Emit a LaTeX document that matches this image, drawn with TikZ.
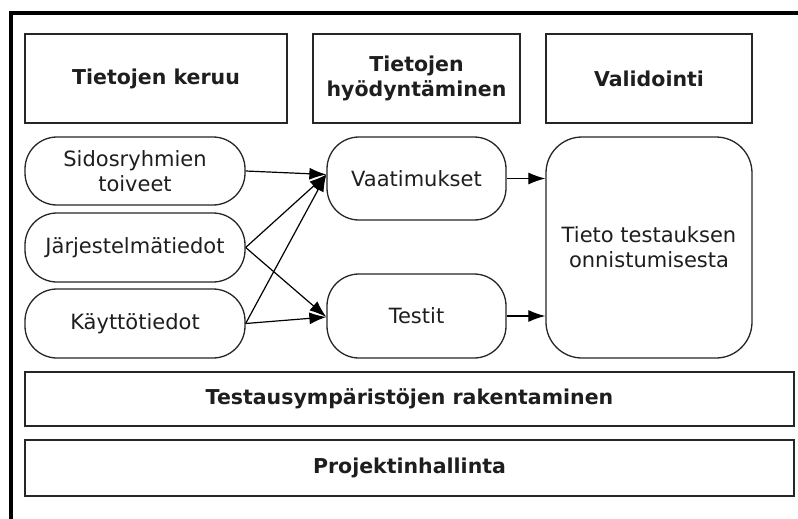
\documentclass[tikz,border=0pt]{standalone}
\usepackage{fontspec}
\setmainfont{DejaVu Sans}
\usetikzlibrary{arrows.meta}
\definecolor{txt}{HTML}{1e1e1e}
\tikzset{
  box/.style={draw=black!85, line width=1.3pt, rectangle, inner sep=0pt, align=center, text=txt, font=\fontsize{20.5}{25}\selectfont\bfseries},
  rbox/.style={draw=black!85, line width=1.3pt, rectangle, rounded corners=32pt, inner sep=0pt, align=center, text=txt, font=\fontsize{21}{25}\selectfont},
  conn/.style={draw=black, line width=1.2pt, -{Latex[length=17pt,width=12pt]}},
  frameline/.style={line width=4pt, black}
}
\begin{document}
\begin{tikzpicture}[x=1pt,y=-1pt]
\useasboundingbox (0,0) rectangle (798,519);
\fill[white] (0,0) rectangle (798,519);
\coordinate (ftl) at (10.5,13);
\coordinate (ftr) at (798,13);
\coordinate (fbl) at (10.5,519);
\draw[frameline] (ftr) -- (ftl) -- (fbl);
% headers
\node[box, minimum width=262pt, minimum height=89pt] (keruu) at (156,78.5) {Tietojen keruu};
\node[box, minimum width=207pt, minimum height=89pt] (hyod) at (416.5,78.5) {Tietojen\\hyödyntäminen};
\node[box, minimum width=206pt, minimum height=89pt] (valid) at (649,78.5) {Validointi};
% sources
\node[rbox, minimum width=220pt, minimum height=68pt] (sidos) at (135,171) {Sidosryhmien\\toiveet};
\node[rbox, minimum width=220pt, minimum height=69pt] (jarj) at (135,247.5) {Järjestelmätiedot};
\node[rbox, minimum width=220pt, minimum height=69pt] (kaytto) at (135,323.5) {Käyttötiedot};
% middle
\node[rbox, minimum width=179pt, minimum height=83pt] (vaat) at (416.5,178.5) {Vaatimukset};
\node[rbox, minimum width=179pt, minimum height=84pt] (testit) at (416.5,316) {Testit};
% right
\node[rbox, rounded corners=36pt, minimum width=206pt, minimum height=221pt] (tieto) at (649,247.5) {Tieto testauksen\\onnistumisesta};
% bars
\node[box, minimum width=769pt, minimum height=54pt] (testaus) at (409.5,399) {Testausympäristöjen rakentaminen};
\node[box, minimum width=769pt, minimum height=56pt] (proj) at (409.5,468) {Projektinhallinta};
% connectors
\coordinate (vin) at ([yshift=4pt]vaat.west);
\coordinate (tin) at ([yshift=-1pt]testit.west);
\draw[conn] (sidos.east) -- (vin);
\draw[conn] (jarj.east) -- (vin);
\draw[conn] (kaytto.east) -- (vin);
\draw[conn] (jarj.east) -- (tin);
\draw[conn] (kaytto.east) -- (tin);
\draw[conn] (vaat.east) -- (vaat.east -| tieto.west);
\draw[conn] (testit.east) -- (testit.east -| tieto.west);
\end{tikzpicture}
\end{document}
